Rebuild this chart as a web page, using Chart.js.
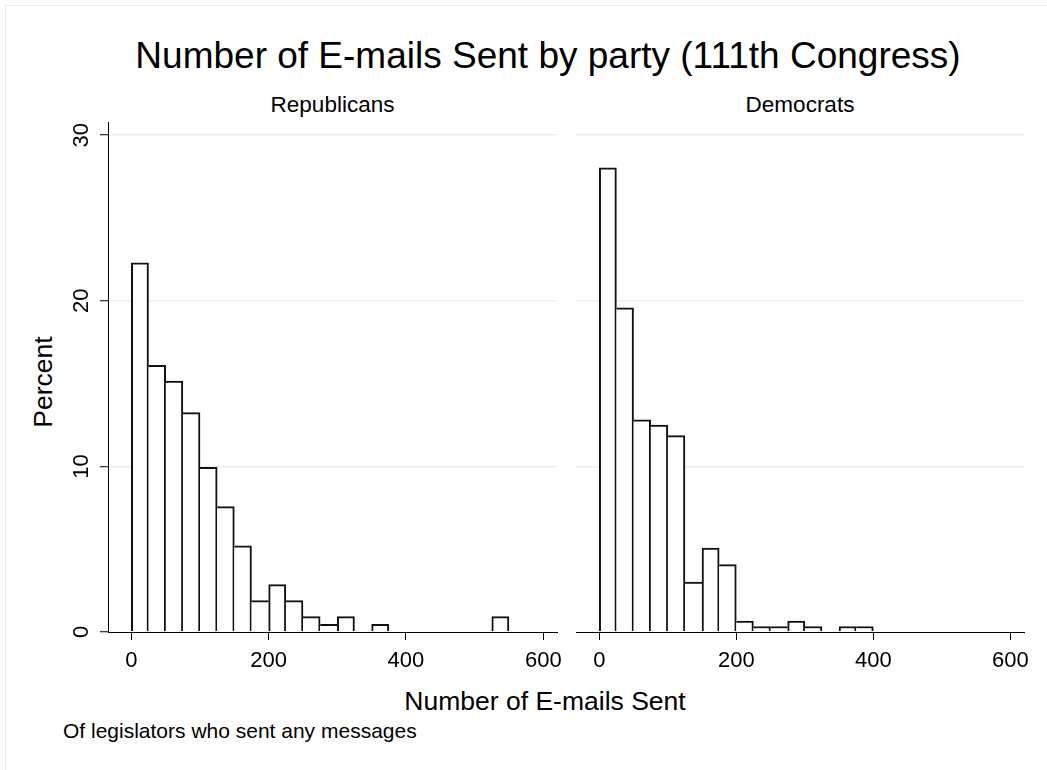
<!DOCTYPE html>
<html>
<head>
<meta charset="utf-8">
<title>Number of E-mails Sent by party (111th Congress)</title>
<script src="https://cdn.jsdelivr.net/npm/chart.js@4/dist/chart.umd.min.js"></script>
<style>
  html, body { margin: 0; padding: 0; background: #fff; }
  body {
    width: 1047px; height: 770px; position: relative; overflow: hidden;
    font-family: "Liberation Sans", Arial, Helvetica, sans-serif; color: #000;
  }
  .frame { position: absolute; left: 5px; top: 5px; width: 1080px; height: 820px;
           border: 1.5px solid #e6eded; box-sizing: border-box; }
  .txt { position: absolute; white-space: nowrap; line-height: 1; }
  canvas { position: absolute; left: 0; top: 0; }
</style>
</head>
<body>
<div class="frame"></div>

<div class="txt" style="font-size:37px; left:548px; top:37px; transform:translateX(-50%);">Number of E-mails Sent by party (111th Congress)</div>
<div class="txt" style="font-size:22.5px; left:332.5px; top:94px; transform:translateX(-50%);">Republicans</div>
<div class="txt" style="font-size:22.5px; left:800px; top:94px; transform:translateX(-50%);">Democrats</div>
<div class="txt" style="font-size:26.5px; left:43px; top:382px; transform:translate(-50%,-50%) rotate(-90deg);">Percent</div>
<div class="txt" style="font-size:26.5px; left:545px; top:688px; transform:translateX(-50%);">Number of E-mails Sent</div>
<div class="txt" style="font-size:21px; left:63px; top:720px;">Of legislators who sent any messages</div>

<canvas id="rep" width="1047" height="770"></canvas>
<canvas id="dem" width="1047" height="770"></canvas>

<script>
// Histogram bins: 25 e-mails wide, identified by their lower edge.
const binWidth = 25;

// Republicans: lower bin edges and percent of legislators in each bin
const repBinStarts = [0, 25, 50, 75, 100, 125, 150, 175, 200, 225, 250, 275, 300, 350, 525];
const repPercent   = [22.29, 16.1, 15.16, 13.25, 9.95, 7.57, 5.21, 1.89, 2.86, 1.89, 0.93, 0.46, 0.93, 0.46, 0.93];

// Democrats: lower bin edges and percent of legislators in each bin
const demBinStarts = [0, 25, 50, 75, 100, 125, 150, 175, 200, 225, 250, 275, 300, 350, 375];
const demPercent   = [28.03, 19.57, 12.82, 12.5, 11.86, 3.02, 5.07, 4.07, 0.66, 0.33, 0.33, 0.66, 0.33, 0.33, 0.33];

// Axis ticks and ranges
const xTickValues = [0, 200, 400, 600];
const yTickValues = [0, 10, 20, 30];
const xMin = -34, xMax = 620;
const yMin = 0, yMax = 30.8;

const FONT = '"Liberation Sans", Arial, Helvetica, sans-serif';
const W = 1047, H = 770;
const BAR_LINE = 2;
const Y_AXIS_W = 50, X_AXIS_H = 50;

function makePanel(canvasId, starts, pct, area, withYAxis) {
  const points = starts.map((s, i) => ({ x: s + binWidth / 2, y: pct[i] }));
  const yW = withYAxis ? Y_AXIS_W : 0;

  // A shared edge between two touching bars is drawn once, by the taller bar,
  // so that it runs the full height of the taller one.
  const edgeWidths = (i) => {
    const prevJoined = i > 0 && starts[i - 1] === starts[i] - binWidth;
    const nextJoined = i < starts.length - 1 && starts[i + 1] === starts[i] + binWidth;
    const left = (!prevJoined || pct[i] > pct[i - 1]) ? BAR_LINE : 0;
    const right = (!nextJoined || pct[i] >= pct[i + 1]) ? BAR_LINE : 0;
    return { top: BAR_LINE, left, right, bottom: 0 };
  };

  return new Chart(document.getElementById(canvasId), {
    type: 'bar',
    data: {
      datasets: [{
        data: points,
        backgroundColor: '#ffffff',
        borderColor: '#111111',
        borderSkipped: 'start',
        barPercentage: 1,
        categoryPercentage: 1,
        borderWidth: (ctx) => edgeWidths(ctx.dataIndex)
      }]
    },
    options: {
      responsive: false,
      animation: false,
      events: [],
      layout: {
        padding: {
          left: area.left - yW,
          right: W - area.right,
          top: area.top,
          bottom: H - area.bottom - X_AXIS_H
        }
      },
      plugins: { legend: { display: false }, tooltip: { enabled: false }, title: { display: false } },
      scales: {
        x: {
          type: 'linear',
          min: xMin, max: xMax,
          offset: false,
          afterBuildTicks: (axis) => { axis.ticks = xTickValues.map(v => ({ value: v })); },
          afterFit: (axis) => { axis.height = X_AXIS_H; },
          grid: { display: true, drawOnChartArea: false, drawTicks: true, tickLength: 8,
                  tickColor: '#000', tickWidth: 1, offset: false },
          border: { display: true, color: '#000', width: 1, z: 1 },
          ticks: { autoSkip: false, maxRotation: 0, minRotation: 0, padding: 8,
                   color: '#000', font: { family: FONT, size: 22 } }
        },
        y: {
          type: 'linear',
          min: yMin, max: yMax,
          afterBuildTicks: (axis) => { axis.ticks = yTickValues.map(v => ({ value: v })); },
          afterFit: (axis) => { axis.width = yW; },
          grid: {
            display: true,
            drawTicks: withYAxis, tickLength: 8, tickColor: '#000', tickWidth: 1,
            color: (ctx) => (ctx.tick && ctx.tick.value === 0) ? 'rgba(0,0,0,0)' : '#e7efef',
            lineWidth: 1.5
          },
          border: { display: withYAxis, color: '#000', width: 1, z: 1 },
          ticks: {
            display: withYAxis, autoSkip: false, minRotation: 90, maxRotation: 90,
            crossAlign: 'center', padding: 6,
            color: '#000', font: { family: FONT, size: 22 }
          }
        }
      }
    }
  });
}

makePanel('rep', repBinStarts, repPercent, { left: 108, right: 557, top: 122, bottom: 632 }, true);
makePanel('dem', demBinStarts, demPercent, { left: 576, right: 1024, top: 122, bottom: 632 }, false);
</script>
</body>
</html>
